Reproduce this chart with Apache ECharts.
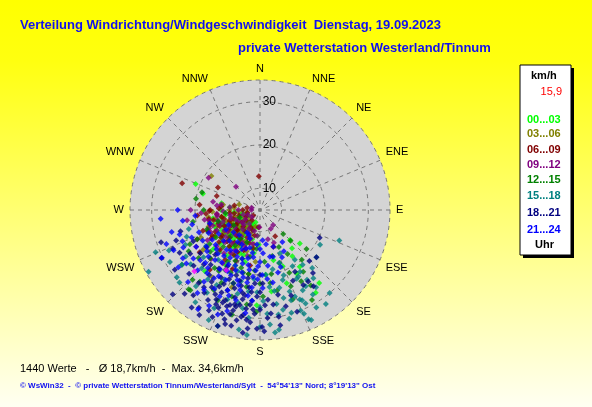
<!DOCTYPE html>
<html>
<head>
<meta charset="utf-8">
<script type="text/javascript" src="https://cdn.jsdelivr.net/npm/echarts@6/dist/echarts.min.js"></script>
<style>
  html, body { margin: 0; padding: 0; }
  #main { width: 592px; height: 407px; }
</style>
</head>
<body>
<div id="main"></div>
<script type="text/javascript">
// Richtungen (16 Sektoren), Zeitgruppen, Farben
var dirNames = ['N', 'NNE', 'NE', 'ENE', 'E', 'ESE', 'SE', 'SSE', 'S', 'SSW', 'SW', 'WSW', 'W', 'WNW', 'NW', 'NNW'];
var hourGroups = ['00...03', '03...06', '06...09', '09...12', '12...15', '15...18', '18...21', '21...24'];
var groupColors = ['#00ff00', '#808000', '#800000', '#800080', '#008000', '#008080', '#000080', '#0000ff'];
var speedTicks = [10, 20, 30];
var currentSpeed = '15,9';

// je Punkt: [Richtung in Grad, Geschwindigkeit km/h], aus dem Bild geschaetzt
var h00_03 = [[200,8],[205,9],[210,8.5],[215,10],[220,9],[225,11],[230,10],[235,12],[240,9.5],[245,11],[250,10],[255,12],
  [212,12],[218,13],[222,14],[228,12.5],[232,14],[238,13],[242,15],[248,13.5],[206,11],[198,10],[195,12],[203,13.5],
  [208,14.5],[214,15.5],[220,16],[226,15],[234,16],[240,17],[190,9],[186,11],[192,14],[200,16],[210,17],[216,18],
  [224,18.5],[230,19],[188,15],[182,13],[196,17.5],[204,19],[212,20],[260,9],[265,11],[258,14],[252,16],
  [247,18],[236,20],[292,21],[286,18.7],[280,14],[135,14.8],[140,16.5],[145,18],[141,26.7],[146,28],[150,22],[158,19],
  [165,17],[175,20],[160,23],[200,23],[222,24],[172,24],[182,27],[145,21],[130,17],[228,9],[244,8],[218,11],
  [215,9],[222,10],[232,11.5],[238,10.5],[246,12.5],[252,14],[226,13],[210,13],[236,15],[244,14],[218,15.5],
  [230,17],[250,11],[256,9.5],[262,13],[270,14],[275,12],[205,16],[213,14],[240,12],[228,11],[234,13.5],[224,12],
  [242,11],[248,16],[254,15],[260,16],[230,14.5],[220,13],[214,11.5],[256,17],[250,14.5],[244,16],[238,14.5]];
var h03_06 = [[305,18.7],[278,13.6],[270,12],[265,10],[260,8],[255,11],[250,13],[245,9],[240,12],[235,14],[230,11],
  [225,13],[220,15],[215,12],[210,10],[205,13],[200,11],[195,9],[190,13],[230,16],[240,17],[250,15.5],[260,14],
  [268,16],[275,11],[285,10],[215,17],[205,18],[225,19],[210,21],[200,24],[235,21],[245,20],[220,10],
  [228,8],[198,15],[185,17],[190,20],[215,24],[238,15],[222,12],[248,12],[212,15],[232,13],[258,15.5],[252,17.5],
  [262,17],[244,14]];
var h06_09 = [[289,24],[298,16],[288,15.5],[358,12.8],[280,11],[275,14],
  [270,16.5],[270,9],[265,12],[260,14],[258,8],[255,10],[250,12.5],[248,15],[245,8.5],[240,11],[238,13.5],[235,16],
  [232,9],[230,12],[228,14.5],[225,10.5],[222,13],[220,16],[218,8],[215,11],[212,14],[210,17],[208,9.5],[205,12],
  [202,15],[200,10],[198,13],[192,11],[190,14],[185,9],[240,18],[250,19],[260,17],
  [225,18],[215,19],[280,8],[265,19.5],[245,21],[205,20],[190,18],[160,14],
  [150,12],[235,22],[220,23],[230,7],[275,19],[269,16.7],[242,12.5],[236,10],[252,11.5],[246,14],[226,15.5],
  [262,11],[256,13.5],[232,17],[218,14.5],[208,16],[244,16.5],[254,17],[238,11.5],[228,12],[214,13],
  [258,16],[252,15],[264,15],[248,18],[242,17.5],[236,15.5],[266,17.5],[272,14.5]];
var h09_12 = [[302,19],[314,12.7],[262,22],[267,18.6],[139,9.6],[157,13.2],[150,10],
  [278,14],[280,16],[275,12],[270,10],[265,15],[260,12],[255,9],[252,14],[248,11],[245,16],
  [242,13],[238,9],[235,12],[232,15],[228,10],[225,13],[222,11],[220,15],[218,9],[215,12.5],[212,16],[210,10],
  [208,13.5],[205,11],[203,14],[198,12],[195,10],[192,13],[186,11],[182,9],[240,19],[230,18],[250,17.5],
  [258,17],[220,18],[205,18],[195,16],[285,7],[270,7],[230,7.5],[165,12],[215,20],[225,21],[240,22],[270,21],
  [244,10.5],[236,14],[228,16],[254,12],[262,15],[276,15],[248,8],[214,17],[200,14.5],[234,10],[250,15],[240,14.5],
  [256,15],[260,18],[246,17.5],[268,13.5],[252,16.5]];
var h12_15 = [[287,19],[260,20.7],[136,12.7],[145,22.4],[224,27.4],[221,29.5],[182,28.5],[153,14.6],[235,27],
  [222,29.6],[220,26.6],[210,26.3],[240,24],[245,21],[250,18],[255,15],[238,17],[230,20],[225,17],[218,22],
  [212,19],[205,21],[200,17],[195,20],[190,23],[185,19],[180,22],[175,17],[170,20],[165,16],[160,18],[155,21],
  [150,24],[148,17],[140,20],[135,15],[130,19],[228,14],[215,15],[202,13],[192,16],[232,23],[208,24],[198,26],
  [188,27],[178,25],[168,24],[240,12],[250,10],[265,13],[270,18],[280,20],[160,27],[150,29],[195,30],[205,28],
  [215,13],[185,14],[226,21],[214,22],[206,18],[198,19],[236,19],[244,23],[190,20],[172,22],[158,24],[146,26]];
var h15_18 = [[111,24.6],[156,27.6],[155,28],[176,29],[167,28.6],[156,32.6],[155,33],[150,22.7],[155,16],[145,19],
  [146,24.4],[162,22],[173,22.9],[241,34.4],[246,28],[238,25.2],[232,25.3],[231,29.7],[205,33],[200,33.5],
  [212.6,27.7],[173,33.5],[171,33],[163,29.8],[158,30],[152,26],[148,28],[142,25],[140,30],[150,31],[160,25],
  [165,26],[170,27],[178,26],[182,24],[186,30],[190,28],[195,25],[200,27],[205,30],[210,25],[215,31],[220,28],
  [225,24],[228,30],[235,27],[240,29],[245,24],[250,23],[255,22],[248,31],[195,22],[185,21],[175,20],[168,19],
  [160,18],[150,20],[142,21],[138,23],[130,22],[120,21],[145,31.5],[165,31],[180,32],[190,33],[210,21],[220,20],
  [230,22],[200,20],[170,24],[160,21],[154,29],[157,31],[161,27],[149,25.5],[144,27],[152,23],[166,23.5],
  [170,29.5],[175,31.5],[186,34],[193,27],[207,23],[217,25],[188,24],[180,27.5],[158,26.5],[147,22]];
var h18_21 = [[250,25.6],[244,30.3],[226,33],[212,31.6],[188,33.6],[181.5,32.4],[179,32],[115,20.2],[136,21.4],
  [150.5,21.4],[146,24.9],[145,26.5],[170,30],[185,31],[178,22],[175,25.8],[197.5,28],[192,27.4],[201,27.3],
  [195,29],[190,30],[200,30.5],[205,29],[208,27],[196,26],[188,28],[185,26],[183,29],[186,24],[190,25],[194,23],
  [198,24],[202,25],[206,24],[210,23],[214,25],[218,24],[222,22],[226,23],[230,25],[234,22],[238,24],[242,26],
  [246,27],[214,28],[218,30],[222,31],[204,32],[194,32.5],[180,28],[176,30],[172,27],[168,25],[165,28],[160,26],
  [155,23],[150,25],[140,24],[130,22],[252,29],[235,29],[228,27],[210,20],[200,21],[190,21],[180,20],[215,21.5],
  [225,19.5],[235,20],[245,22],[255,24],[205,26],[195,27.5],[182,25],[178,33],[170,32],[160,30],[215,32.5],
  [220,27],[200,33.5],[186,27],[189,29.5],[192,31],[196,30],[199,28.5],[203,29.5],[207,31],[184,28],[187,30.5],
  [191,26],[194,28],[198,31.5],[202,28],[206,28],[210,29],[188,23],[192,24.5],[196,22],[200,23],[204,22.5],
  [208,25],[212,26],[216,27],[184,22],[180,24],[177,27],[174,29],[186,32.5],[197,32.5],[210,33]];
var h21_24 = [[244,30.2],[244,24.7],[253,24.4],[248,24.3],[245,27],[217,29],[202,31],[204,11.3],[164.5,16.2],
  [240,22],[236,20],[232,18],[228,21],[224,19],[220,17],[216,20],[212,18],[208,21],[204,19],[200,17],[196,20],
  [192,18],[188,16],[184,19],[180,17],[176,15],[172,18],[168,16],[164,20],[238,26],[234,24],[230,23],[226,25],
  [222,23],[218,26],[214,24],[210,26],[206,23],[202,25],[198,22],[194,24],[190,22],[186,23],[182,21],[178,23],
  [174,21],[170,22],[160,19],[155,17],[150,16],[145,14],[240,16],[246,18],[250,20],[255,17],[258,21],[262,23],
  [225,15],[215,14],[205,15],[195,14],[185,13],[175,12],[200,12],[210,11],[220,12.5],[230,13],[240,14],[235,28],
  [225,28.5],[215,27.5],[205,27],[195,26.5],[185,26],[188,29],[198,29.5],[208,30],[212,32],[250,28],[256,26],
  [265,20],[270,24],[265,28],[210,16],[200,14.5],[190,15],[180,14],[170,13],[160,14],[230,16],[245,13],
  [222,20.5],[218,18.5],[214,21.5],[210,19.5],[206,17],[202,20],[198,18],[194,21],[190,19],[186,20.5],
  [228,18.5],[232,20.5],[226,22.5],[220,24],[212,23],[204,21.5],[196,23],[188,25],[200,26],[216,16.5],
  [234,26],[242,20],[248,22],[238,18],[182,18],[178,20],[194,16.5],[208,14]];
var pinkPoints = [[227,25.7],[209.5,20.9]];

var groups = [h00_03, h03_06, h06_09, h09_12, h12_15, h15_18, h18_21, h21_24];

var myChart = echarts.init(document.getElementById('main'));

var series = groups.map(function (g, i) {
  return {
    name: hourGroups[i],
    type: 'scatter',
    coordinateSystem: 'polar',
    polarIndex: 1,
    symbol: 'diamond',
    symbolSize: 6,
    silent: true,
    z: 5,
    itemStyle: { color: groupColors[i] },
    data: g.map(function (p) { return [p[1], p[0]]; })
  };
});
series.push({
  type: 'scatter', coordinateSystem: 'polar', polarIndex: 1, symbol: 'diamond', symbolSize: 6, silent: true, z: 5,
  itemStyle: { color: '#ff00ff' },
  data: pinkPoints.map(function (p) { return [p[1], p[0]]; })
});

// Legende rechts
var legendFont = 'bold 11px "Liberation Sans", Arial';
var legendTexts = [
  { type: 'text', left: 531, top: 70, style: { text: 'km/h', font: legendFont, fill: '#000' } },
  { type: 'text', right: 30, top: 86, style: { text: currentSpeed, font: '11px "Liberation Sans", Arial', fill: '#ff0000' } }
];
var legendTops = [114, 128, 144, 159, 174, 190, 207, 224];
hourGroups.forEach(function (h, i) {
  legendTexts.push({ type: 'text', left: 527, top: legendTops[i],
    style: { text: h, font: legendFont, fill: groupColors[i] } });
});
legendTexts.push({ type: 'text', left: 535, top: 239, style: { text: 'Uhr', font: legendFont, fill: '#000' } });

var dashed = { color: '#777777', type: [4, 4], width: 1 };

var option = {
  animation: false,
  backgroundColor: new echarts.graphic.LinearGradient(0, 0, 0, 1, [
    { offset: 0, color: '#ffff00' },
    { offset: 0.15, color: '#ffff10' },
    { offset: 1, color: '#fffff2' }
  ]),
  textStyle: { fontFamily: '"Liberation Sans", Arial, sans-serif' },
  graphic: [
    { type: 'text', left: 20, top: 19, style: { text: 'Verteilung Windrichtung/Windgeschwindigkeit  Dienstag, 19.09.2023', font: 'bold 13px "Liberation Sans", Arial', fill: '#1010f0' } },
    { type: 'text', left: 238, top: 42, style: { text: 'private Wetterstation Westerland/Tinnum', font: 'bold 13px "Liberation Sans", Arial', fill: '#1010f0' } },
    { type: 'rect', shape: { x: 523, y: 68, width: 51, height: 190 }, style: { fill: '#000' } },
    { type: 'rect', shape: { x: 520, y: 65, width: 51, height: 190 }, style: { fill: '#fff', stroke: '#000', lineWidth: 1 } },
    { type: 'text', left: 20, top: 363, style: { text: '1440 Werte   -   Ø 18,7km/h  -  Max. 34,6km/h', font: '11px "Liberation Sans", Arial', fill: '#000' } },
    { type: 'text', left: 20, top: 382, style: { text: '© WsWin32  -  © private Wetterstation Tinnum/Westerland/Sylt  -  54°54\'13" Nord; 8°19\'13" Ost', font: 'bold 8px "Liberation Sans", Arial', fill: '#1010f0' } }
  ].concat(legendTexts),
  polar: [
    { center: [260, 210], radius: 130 },
    { center: [260, 210], radius: 130 }
  ],
  angleAxis: [
    {
      // nur graue Kreisflaeche
      polarIndex: 0, type: 'value', min: 0, max: 360, startAngle: 90, splitNumber: 1, z: -2,
      axisLine: { show: false }, axisTick: { show: false }, axisLabel: { show: false },
      splitLine: { show: false },
      splitArea: { show: true, areaStyle: { color: ['#d4d4d4'] } }
    },
    {
      polarIndex: 1, type: 'value', min: 0, max: 360, interval: 22.5, startAngle: 90, clockwise: true, z: 1,
      axisLine: { show: false },
      axisTick: { show: false },
      axisLabel: {
        margin: 6, color: '#000', fontSize: 11,
        formatter: function (v) { return v >= 360 ? '' : dirNames[Math.round(v / 22.5) % 16]; }
      },
      splitLine: { show: true, lineStyle: dashed }
    }
  ],
  radiusAxis: [
    {
      polarIndex: 0, type: 'value', min: 5, max: 35, z: -2,
      axisLine: { show: false }, axisTick: { show: false }, axisLabel: { show: false }, splitLine: { show: false }
    },
    {
      polarIndex: 1, type: 'value', min: 5, max: 35, splitNumber: 3, z: 1,
      axisLine: { show: false },
      axisTick: { show: false },
      axisLabel: {
        color: '#000', fontSize: 12, margin: -16,
        formatter: function (v) { return speedTicks.indexOf(v) >= 0 ? String(v) : ''; }
      },
      splitLine: { show: true, lineStyle: dashed }
    }
  ],
  series: series
};
myChart.setOption(option);
</script>
</body>
</html>
